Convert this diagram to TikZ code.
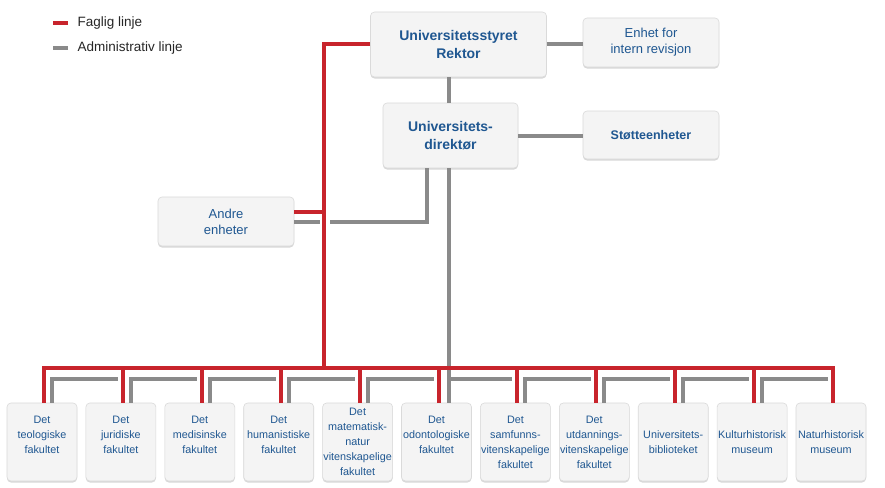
\documentclass[tikz,border=0pt]{standalone}
\usepackage{fontspec}
\setmainfont{Liberation Sans}
\usetikzlibrary{shadows}
\definecolor{fagred}{RGB}{200,36,44}
\definecolor{admgray}{RGB}{138,138,138}
\definecolor{unitblue}{RGB}{31,87,145}
\definecolor{boxfill}{RGB}{244,244,244}
\definecolor{boxline}{RGB}{218,218,218}
\tikzset{
    box/.style={draw=boxline, fill=boxfill, line width=0.6pt, rounded corners=4pt,
                inner sep=0pt, align=center, text=unitblue,
                drop shadow={shadow xshift=0pt, shadow yshift=-1.5pt,
                             opacity=0.25, fill=black!60}},
    topbox/.style={box, font=\bfseries\fontsize{14}{18.5}\selectfont},
    sidebox/.style={box, font=\fontsize{13}{16}\selectfont},
    fakultet/.style={box, minimum width=70pt, minimum height=78pt,
                     font=\fontsize{10.8}{15}\selectfont},
    faglig/.style={draw=fagred, line width=4pt},
    admin/.style={draw=admgray, line width=4pt},
    forklaring/.style={anchor=west, text=black!85,
                       font=\fontsize{13.5}{16}\selectfont},
}

\begin{document}
\begin{tikzpicture}[x=1pt, y=-1pt]

    \useasboundingbox[fill=white] (0,0) rectangle (885,487);

    % legend
    \node[forklaring] (fagleg) at (74,23) {Faglig linje};
    \node[forklaring] (admleg) at (74,48) {Administrativ linje};
    \draw[faglig] ([xshift=-6pt]fagleg.west) -- ++(-15,0);
    \draw[admin] ([xshift=-6pt]admleg.west) -- ++(-15,0);

    % top of the organisation
    \node[topbox, minimum width=176pt, minimum height=65pt] (styret) at (458.5,44.5) {Universitetsstyret\\Rektor};
    \node[sidebox, minimum width=136pt, minimum height=49pt] (revisjon) at (651,42.5) {Enhet for\\intern revisjon};
    \node[topbox, minimum width=135pt, minimum height=65pt] (direktor) at (450.5,135.5) {Universitets-\\direktør};
    \node[box, font=\bfseries\fontsize{12.5}{15}\selectfont, minimum width=136pt, minimum height=48pt] (stotte) at (651,135) {Støtteenheter};
    \node[sidebox, minimum width=136pt, minimum height=49pt] (andre) at (226,221.5) {Andre\\enheter};

    % faculties and museums (3-line texts sit as high as 4-line ones)
    \node[fakultet] (teol) at (42,442) {Det\\teologiske\\fakultet\\\mbox{}};
    \node[fakultet] (jur) at (120.9,442) {Det\\juridiske\\fakultet\\\mbox{}};
    \node[fakultet] (med) at (199.8,442) {Det\\medisinske\\fakultet\\\mbox{}};
    \node[fakultet] (hum) at (278.7,442) {Det\\humanistiske\\fakultet\\\mbox{}};
    \node[fakultet] (matnat) at (357.6,442) {Det\\matematisk-\\natur\\vitenskapelige\\fakultet};
    \node[fakultet] (odont) at (436.5,442) {Det\\odontologiske\\fakultet\\\mbox{}};
    \node[fakultet] (samf) at (515.4,442) {Det\\samfunns-\\vitenskapelige\\fakultet};
    \node[fakultet] (utd) at (594.3,442) {Det\\utdannings-\\vitenskapelige\\fakultet};
    \node[fakultet] (ub) at (673.2,442) {Universitets-\\biblioteket};
    \node[fakultet] (khm) at (752.1,442) {Kulturhistorisk\\museum};
    \node[fakultet] (nhm) at (831,442) {Naturhistorisk\\museum};

    \coordinate (fagspine) at (324,368);
    \coordinate (admrail) at (449,379);

    % administrative lines
    \draw[admin] ([xshift=-2pt]direktor.north) -- ([xshift=-2pt]direktor.north |- styret.south);
    \draw[admin] (styret.east) -- (styret.east -| revisjon.west);
    \draw[admin] (direktor.east) -- (direktor.east -| stotte.west);
    \draw[admin] ([xshift=-2pt]direktor.south) -- ([xshift=-2pt]direktor.south |- odont.north);
    \draw[admin] ([xshift=-23.5pt]direktor.south) |- ([xshift=6pt]fagspine |- andre.east);
    \draw[admin] (andre.east) -- ([xshift=-4pt]fagspine |- andre.east);
    \draw[admin] ([xshift=10pt]teol.north) |- ([xshift=-3pt]jur.north |- admrail);
    \draw[admin] ([xshift=10pt]jur.north) |- ([xshift=-3pt]med.north |- admrail);
    \draw[admin] ([xshift=10pt]med.north) |- ([xshift=-3pt]hum.north |- admrail);
    \draw[admin] ([xshift=10pt]hum.north) |- ([xshift=-3pt]matnat.north |- admrail);
    \draw[admin] ([xshift=10pt]matnat.north) |- ([xshift=-3pt]odont.north |- admrail);
    \draw[admin] ([xshift=-2pt]direktor.south |- admrail) -- ([xshift=-3pt]samf.north |- admrail);
    \draw[admin] ([xshift=10pt]samf.north) |- ([xshift=-3pt]utd.north |- admrail);
    \draw[admin] ([xshift=10pt]utd.north) |- ([xshift=-3pt]ub.north |- admrail);
    \draw[admin] ([xshift=10pt]ub.north) |- ([xshift=-3pt]khm.north |- admrail);
    \draw[admin] ([xshift=10pt]khm.north) |- ([xshift=-3pt]nhm.north |- admrail);

    % academic lines
    \draw[faglig] (styret.west) -| (fagspine);
    \draw[faglig] ([yshift=9.5pt]andre.east) -- ([yshift=9.5pt]andre.east -| fagspine);
    \draw[faglig] ([xshift=2pt]teol.north) |- (fagspine) -| ([xshift=2pt]nhm.north);
    \draw[faglig] ([xshift=2pt]jur.north) -- ([xshift=2pt]jur.north |- fagspine);
    \draw[faglig] ([xshift=2pt]med.north) -- ([xshift=2pt]med.north |- fagspine);
    \draw[faglig] ([xshift=2pt]hum.north) -- ([xshift=2pt]hum.north |- fagspine);
    \draw[faglig] ([xshift=2pt]matnat.north) -- ([xshift=2pt]matnat.north |- fagspine);
    \draw[faglig] ([xshift=2pt]odont.north) -- ([xshift=2pt]odont.north |- fagspine);
    \draw[faglig] ([xshift=2pt]samf.north) -- ([xshift=2pt]samf.north |- fagspine);
    \draw[faglig] ([xshift=2pt]utd.north) -- ([xshift=2pt]utd.north |- fagspine);
    \draw[faglig] ([xshift=2pt]ub.north) -- ([xshift=2pt]ub.north |- fagspine);
    \draw[faglig] ([xshift=2pt]khm.north) -- ([xshift=2pt]khm.north |- fagspine);

\end{tikzpicture}
\end{document}
